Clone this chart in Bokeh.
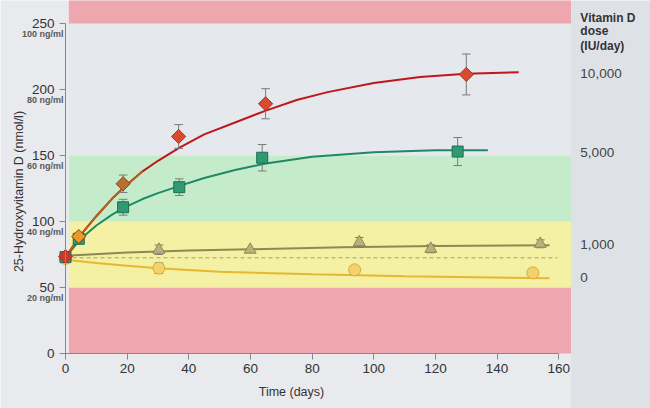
# 25-Hydroxyvitamin D response to vitamin D dose over time
import math

from bokeh.core.properties import value
from bokeh.embed import file_html
from bokeh.models import FixedTicker, Range1d
from bokeh.plotting import figure
from bokeh.resources import INLINE

# %%
# measured points (days, nmol/l, error)
red_days = [0, 4.3, 18.7, 36.7, 64.9, 130]
red_vals = [73.5, 88.6, 128.6, 164.4, 189.2, 211.4]
red_err = [0, 0, 6.6, 9, 11.4, 15.5]
red_fill = ["#c9392c", "#e89a2a", "#b4702c", "#d94a2e", "#d94a2e", "#d94a2e"]

green_days = [0, 4.3, 18.7, 36.9, 63.8, 127.2]
green_vals = [73, 86.9, 110.8, 126, 148.3, 153]
green_err = [0, 0, 6, 6.3, 10, 10.6]

olive_days = [0, 30.3, 59.9, 95.3, 118.5, 154]
olive_vals = [73.5, 78.6, 78.6, 84.3, 79.3, 83.1]
olive_err = [0, 3.6, 0, 3.6, 3, 3]

yellow_days = [0, 30.3, 93.8, 151.6]
yellow_vals = [72, 64.6, 63.4, 61.1]
yellow_err = [0, 4, 3, 3]

# fitted curves
red_curve_x = [0, 5, 10, 15, 19, 25, 30, 37, 45, 55, 65, 75, 85, 100, 115, 130, 147]
red_curve_y = [73, 90, 104, 117, 126, 138, 146, 156, 166, 175, 184, 192, 198, 205, 209.5, 212, 213]
green_curve_x = [0, 5, 10, 15, 19, 25, 30, 37, 45, 55, 65, 80, 100, 120, 137]
green_curve_y = [73, 87, 97, 105, 110.5, 117, 121.5, 127, 133, 139, 144, 149, 152.5, 154, 154]
olive_curve_x = [0, 20, 40, 60, 90, 120, 157]
olive_curve_y = [74, 76.5, 78, 79, 80.5, 81.5, 82]
yellow_curve_x = [0, 10, 20, 30, 50, 80, 110, 157]
yellow_curve_y = [71, 68.5, 66.5, 64.5, 62, 60, 58.5, 57]

baseline = 72.5

# target ranges
band_bottom = [0, 50, 100, 150, 250]
band_top = [50, 100, 150, 250, 268]
band_color = ["#eea7af", "#f4f0a4", "#c5ecca", "#e5e8ec", "#eea7af"]

y_ticks = [0, 50, 100, 150, 200, 250]
ngml_vals = [50, 100, 150, 200, 250]
ngml_labels = ["20 ng/ml", "40 ng/ml", "60 ng/ml", "80 ng/ml", "100 ng/ml"]
x_ticks = [0, 20, 40, 60, 80, 100, 120, 140, 160]

dose_labels = ["10,000", "5,000", "1,000", "0"]
dose_levels = [212, 152.3, 82.6, 57.6]

FONT = "Liberation Sans"

# %%
# the frame fills the whole canvas, axes are pinned at x=0 / y=0
X0, X1 = -21.08, 189.75
Y0, Y1 = -41.67, 267.42
p = figure(width=650, height=408, x_range=Range1d(X0, X1), y_range=Range1d(Y0, Y1),
           output_backend="svg", toolbar_location=None,
           min_border_left=0, min_border_right=0, min_border_top=0, min_border_bottom=0)
p.background_fill_color = "#e8eaed"
p.border_fill_color = "#e8eaed"
p.outline_line_color = None
p.grid.visible = False

# background bands
p.quad(left=1.1, right=164, bottom=band_bottom, top=band_top, fill_color=band_color, line_color=None)
p.quad(left=164, right=X1, bottom=Y0, top=Y1, fill_color="#dee2e7", line_color=None)

# baseline
p.line([0, 159.5], [baseline, baseline], line_color="#a8a068", line_width=1, line_dash="4 3")

# curves
p.line(yellow_curve_x, yellow_curve_y, line_color="#e6b832", line_width=2)
p.line(olive_curve_x, olive_curve_y, line_color="#8c8a50", line_width=2)
p.line(green_curve_x, green_curve_y, line_color="#1e8a64", line_width=2)
p.line(red_curve_x, red_curve_y, line_color="#c0161c", line_width=2)
p.line(red_curve_x[:6], red_curve_y[:6], line_color="#b5601e", line_width=2)


def error_bars(xs, ys, errs):
    xs2 = [x for x, e in zip(xs, errs) if e > 0]
    lo = [y - e for y, e in zip(ys, errs) if e > 0]
    hi = [y + e for y, e in zip(ys, errs) if e > 0]
    p.segment(xs2, lo, xs2, hi, line_color="#7a7a7a", line_width=1)
    for ends in (lo, hi):
        p.segment([x - 1.4 for x in xs2], ends, [x + 1.4 for x in xs2], ends,
                  line_color="#7a7a7a", line_width=1)


error_bars(yellow_days, yellow_vals, yellow_err)
error_bars(olive_days, olive_vals, olive_err)
error_bars(green_days, green_vals, green_err)
error_bars(red_days, red_vals, red_err)

p.scatter(yellow_days, yellow_vals, marker="circle", size=12, fill_color="#f1d26c", line_color="#d6ad3a")
p.scatter(olive_days, olive_vals, marker="triangle", size=12, fill_color="#b8b27a", line_color="#8c8a50")
p.scatter(green_days, green_vals, marker="square", size=11, fill_color="#2f9a72", line_color="#1d6e52")
p.scatter(red_days, red_vals, marker="square", angle=math.pi / 4, size=10,
          fill_color=red_fill, line_color="#a8301e")

# axes
for ax in (p.xaxis[0], p.yaxis[0]):
    ax.fixed_location = 0
    ax.axis_line_color = "#888888"
    ax.major_tick_line_color = "#888888"
    ax.minor_tick_line_color = None
    ax.major_tick_out = 6
    ax.major_tick_in = 0
    ax.major_label_text_font = FONT
    ax.major_label_text_font_size = "13.5px"
    ax.major_label_text_color = "#333333"
p.xaxis.ticker = FixedTicker(ticks=x_ticks)
p.yaxis.ticker = FixedTicker(ticks=y_ticks)
p.xaxis.bounds = (0, 160)
p.yaxis.bounds = (0, 250)
p.xaxis.major_label_standoff = 5
p.yaxis.major_label_standoff = 5

# ng/ml equivalents under the y tick labels
p.text([-0.65] * len(ngml_vals), [v - 8 for v in ngml_vals], text=ngml_labels,
       text_align="right", text_baseline="middle", text_font=value(FONT),
       text_font_size="9px", text_font_style="bold", text_color="#5a5a5a")

# axis titles
p.text([73.3], [-29.5], text=["Time (days)"], text_align="center", text_baseline="middle",
       text_font=value(FONT), text_font_size="12.5px", text_color="#333333")
p.text([-15.24], [122.7], text=["25-Hydroxyvitamin D (nmol/l)"], angle=math.pi / 2,
       text_align="center", text_baseline="middle",
       text_font=value(FONT), text_font_size="12.5px", text_color="#333333")

# dose labels on the right
p.text([167, 167, 167], [254.5, 244, 232.6], text=["Vitamin D", "dose", "(IU/day)"],
       text_font=value(FONT), text_font_size="12px", text_font_style="bold",
       text_color="#333333", text_baseline="middle")
p.text([167] * len(dose_labels), dose_levels, text=dose_labels,
       text_font=value(FONT), text_font_size="13.5px", text_color="#444444", text_baseline="middle")

open("out.html", "w").write(file_html(p, INLINE))
